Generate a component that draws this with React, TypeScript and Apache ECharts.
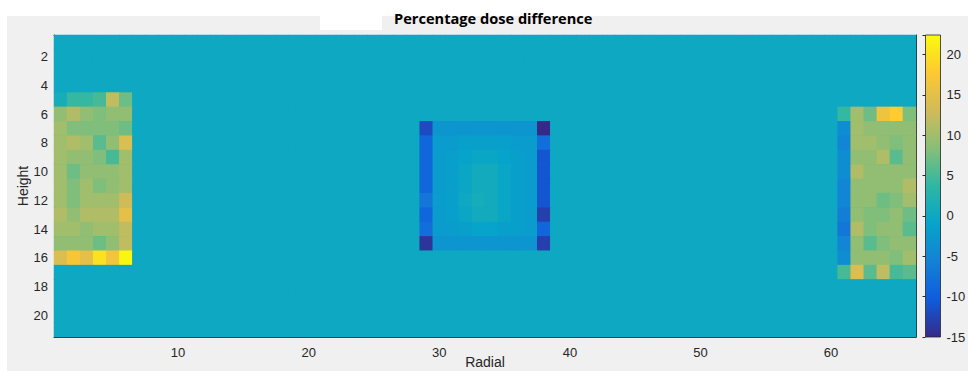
import React, { useEffect, useRef } from 'react';
import * as echarts from 'echarts';

const NUM_COLS = 66;
const NUM_ROWS = 21;
const radialCategories = Array.from({ length: NUM_COLS }, (_, i) => String(i + 1));
const heightCategories = Array.from({ length: NUM_ROWS }, (_, i) => String(i + 1));
const radialTickLabels = [10, 20, 30, 40, 50, 60];
const heightTickLabels = [2, 4, 6, 8, 10, 12, 14, 16, 18, 20];
const colorbarTickLabels = [-15, -10, -5, 0, 5, 10, 15, 20];
const backgroundValue = 0;
const colorMin = -15;
const colorMax = 22.4;

// [first column, first row] of each block (1-based data coordinates)
const leftBlockStart = [1, 5];
const leftBlock = [
  [1, 4, 4, 5, 12, 7],
  [9, 11, 9, 8, 9, 9],
  [10, 8, 8, 8, 8, 7],
  [10, 11, 10, 6, 9, 14],
  [10, 9, 9, 8, 5, 10],
  [10, 7, 9, 9, 9, 10],
  [10, 8, 10, 8, 9, 10],
  [10, 8, 10, 10, 10, 13],
  [11, 9, 11, 11, 11, 15],
  [10, 10, 9, 10, 10, 12],
  [9, 9, 9, 7, 9, 12],
  [14, 17, 15, 20, 16.5, 22],
];

const middleBlockStart = [29, 7];
const middleBlock = [
  [-12, -3, -3, -3, -3, -3, -3, -3, -3, -15],
  [-9, -2, -2, -1.5, -1.5, -1.5, -1.5, -2, -2, -8],
  [-9, -2, -1.5, -1, -0.5, -0.5, -1, -1.5, -2, -11],
  [-9, -2, -1.5, -0.5, 0.5, 0.5, -0.5, -1.5, -2, -11],
  [-9, -2, -1.5, -0.5, 0.5, 0.5, -0.5, -1.5, -2, -11],
  [-7, -2, -1.5, 0, 1, 0.5, -0.5, -1.5, -2, -11],
  [-9, -2, -1.5, -0.5, 0.5, 0.5, -0.5, -1.5, -2, -13],
  [-8, -2, -2, -1.5, -1, -1, -1.5, -1.5, -2, -9],
  [-14, -3, -3, -3, -3, -3, -3, -3, -3, -13],
];

const rightBlockStart = [61, 6];
const rightBlock = [
  [4, 10, 7, 16, 18, 8],
  [-4, 10, 9, 9, 9, 9],
  [-5, 10, 10, 9, 8, 9],
  [-4, 9, 9, 11, 6, 9],
  [-4, 11, 9, 9, 9, 9],
  [-5, 9, 9, 9, 9, 11],
  [-5, 9, 9, 7, 8, 10],
  [-6, 9, 8, 8, 9, 7],
  [-7, 11, 8, 9, 9, 6],
  [-5, 9, 6, 8, 9, 9],
  [-4, 9, 9, 9, 8, 10],
  [5, 14, 6, 12, 5, 6],
];

const parula = ['#352a87', '#0f5cdd', '#1481d6', '#06a4ca', '#2eb7a4', '#87bf77', '#d1bb59', '#fec832', '#f9fb0e'];

function buildData() {
  const grid: number[][] = [];
  for (let r = 0; r < NUM_ROWS; r++) {
    grid.push(new Array(NUM_COLS).fill(backgroundValue));
  }
  const place = (start: number[], block: number[][]) => {
    block.forEach((row, ri) => {
      row.forEach((v, ci) => {
        grid[start[1] - 1 + ri][start[0] - 1 + ci] = v;
      });
    });
  };
  place(leftBlockStart, leftBlock);
  place(middleBlockStart, middleBlock);
  place(rightBlockStart, rightBlock);
  const data: number[][] = [];
  for (let r = 0; r < NUM_ROWS; r++) {
    for (let c = 0; c < NUM_COLS; c++) {
      data.push([c, r, grid[r][c]]);
    }
  }
  return data;
}

const FONT = 'Liberation Sans, Arial, sans-serif';
const TITLE_FONT = 'Open Sans, Noto Sans, sans-serif';
const AXIS_COLOR = '#262626';

export default function App() {
  const ref = useRef<HTMLDivElement>(null);
  useEffect(() => {
    if (!ref.current) return;
    const chart = echarts.init(ref.current, null, { renderer: 'svg' });
    const xTick = (i: number) => radialTickLabels.includes(i + 1);
    const yTick = (i: number) => heightTickLabels.includes(i + 1);
    const cbLeft = 925.5;
    const cbTop = 35;
    const cbWidth = 15;
    const cbHeight = 302;
    const stops = parula.map((c, i) => ({ offset: i / (parula.length - 1), color: c }));
    const bgColor = echarts.color.lerp((backgroundValue - colorMin) / (colorMax - colorMin), parula);
    const catAxisCommon = {
      axisLine: { show: true, lineStyle: { color: AXIS_COLOR, width: 1 } },
      splitLine: { show: false },
    };
    const option: any = {
      animation: false,
      title: {
        text: 'Percentage dose difference',
        left: 389,
        top: 5,
        textStyle: { fontFamily: TITLE_FONT, fontWeight: 'bold', fontSize: 14.6, color: '#000' },
      },
      graphic: [
        { type: 'rect', z: -100, silent: true, shape: { x: 7, y: 16, width: 961, height: 355 }, style: { fill: '#f0f0f0' } },
        { type: 'rect', z: -99, silent: true, shape: { x: 320, y: 16, width: 62, height: 14 }, style: { fill: '#ffffff' } },
        {
          type: 'rect',
          z: 10,
          silent: true,
          shape: { x: cbLeft, y: cbTop, width: cbWidth, height: cbHeight },
          style: {
            fill: new echarts.graphic.LinearGradient(0, 1, 0, 0, stops),
            stroke: AXIS_COLOR,
            lineWidth: 0.8,
          },
        },
      ],
      grid: [
        {
          left: 54, top: 35, width: 862, height: 302,
          show: true, backgroundColor: bgColor, borderWidth: 0,
          outerBoundsMode: 'none', containLabel: false,
        },
        {
          left: cbLeft, top: cbTop, width: cbWidth, height: cbHeight, show: false,
          outerBoundsMode: 'none', containLabel: false,
        },
      ],
      visualMap: {
        show: false,
        min: colorMin,
        max: colorMax,
        dimension: 2,
        seriesIndex: 0,
        inRange: { color: parula },
      },
      xAxis: [
        {
          ...catAxisCommon,
          type: 'category',
          gridIndex: 0,
          data: radialCategories,
          position: 'bottom',
          name: 'Radial',
          nameLocation: 'middle',
          nameGap: 18,
          nameMoveOverlap: false,
          nameTextStyle: { fontFamily: FONT, fontSize: 14, color: AXIS_COLOR },
          axisTick: { show: true, inside: true, length: 8, alignWithLabel: true, interval: xTick, lineStyle: { color: AXIS_COLOR } },
          axisLabel: { interval: xTick, fontFamily: FONT, fontSize: 13, color: AXIS_COLOR, margin: 9 },
        },
        {
          ...catAxisCommon,
          type: 'category',
          gridIndex: 0,
          data: radialCategories,
          position: 'top',
          axisTick: { show: true, inside: true, length: 8, alignWithLabel: true, interval: xTick, lineStyle: { color: AXIS_COLOR } },
          axisLabel: { show: false },
        },
        {
          type: 'value',
          gridIndex: 1,
          min: 0,
          max: 1,
          show: false,
        },
      ],
      yAxis: [
        {
          ...catAxisCommon,
          type: 'category',
          gridIndex: 0,
          data: heightCategories,
          inverse: true,
          position: 'left',
          name: 'Height',
          nameLocation: 'middle',
          nameGap: 24,
          nameMoveOverlap: false,
          nameTextStyle: { fontFamily: FONT, fontSize: 14, color: AXIS_COLOR },
          axisTick: { show: true, inside: true, length: 8, alignWithLabel: true, interval: yTick, lineStyle: { color: AXIS_COLOR } },
          axisLabel: { interval: yTick, fontFamily: FONT, fontSize: 13, color: AXIS_COLOR, margin: 6 },
        },
        {
          ...catAxisCommon,
          type: 'category',
          gridIndex: 0,
          data: heightCategories,
          inverse: true,
          position: 'right',
          axisTick: { show: true, inside: true, length: 8, alignWithLabel: true, interval: yTick, lineStyle: { color: AXIS_COLOR } },
          axisLabel: { show: false },
        },
        {
          type: 'value',
          gridIndex: 1,
          min: colorMin,
          max: colorMax,
          interval: 5,
          position: 'right',
          axisLine: { show: false },
          axisTick: { show: true, inside: true, length: 3, lineStyle: { color: AXIS_COLOR } },
          axisLabel: {
            fontFamily: FONT,
            fontSize: 13,
            color: AXIS_COLOR,
            margin: 6,
            formatter: (v: number) => (colorbarTickLabels.includes(v) ? String(v) : ''),
          },
          splitLine: { show: false },
          z: 20,
        },
      ],
      series: [
        {
          type: 'heatmap',
          xAxisIndex: 0,
          yAxisIndex: 0,
          data: buildData(),
          itemStyle: { borderWidth: 0 },
          emphasis: { disabled: true },
        },
        {
          type: 'scatter',
          xAxisIndex: 2,
          yAxisIndex: 2,
          data: [],
          silent: true,
        },
      ],
    };
    chart.setOption(option);
    return () => chart.dispose();
  }, []);
  return (
    <div
      ref={ref}
      style={{ position: 'fixed', left: 0, top: 0, width: 968, height: 371, background: '#ffffff' }}
    />
  );
}
